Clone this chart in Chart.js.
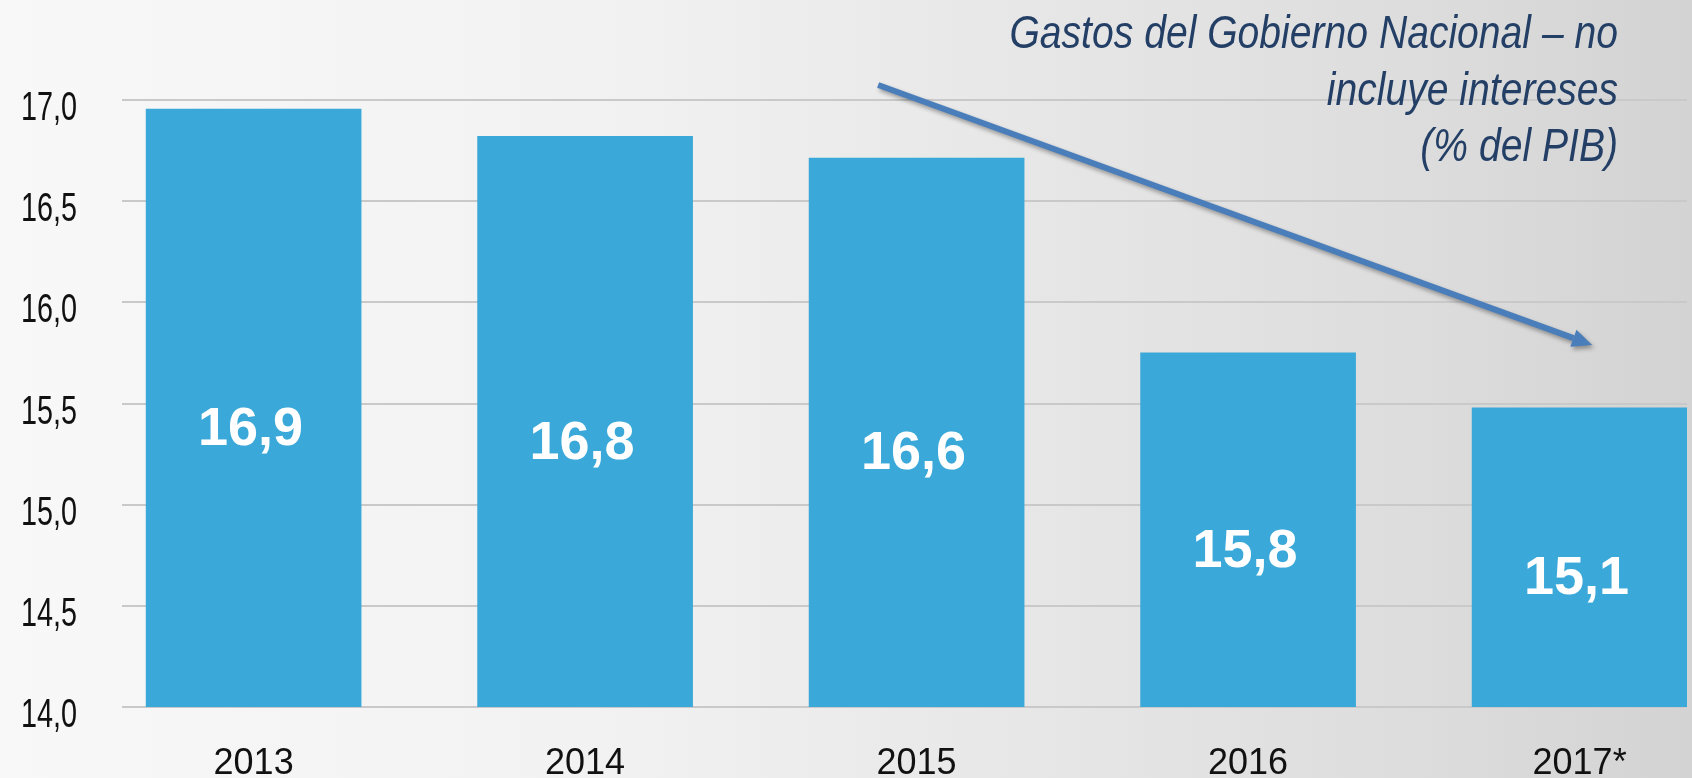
<!DOCTYPE html>
<html>
<head>
<meta charset="utf-8">
<script src="https://cdn.jsdelivr.net/npm/chart.js@4/dist/chart.umd.min.js"></script>
<style>
    html, body { margin: 0; padding: 0; background: #eeeeee; }
    #wrap { width: 1692px; height: 778px; }
</style>
</head>
<body>
<div id="wrap"><canvas id="gastosChart" width="1692" height="778"></canvas></div>
<script>
// Data
const years = ['2013', '2014', '2015', '2016', '2017*'];
const barHeights = [16.955, 16.82, 16.713, 15.751, 15.478];   // bar tops as drawn
const shownValues = [16.9, 16.8, 16.6, 15.8, 15.1];           // labels printed on bars
const yTicks = [14.0, 14.5, 15.0, 15.5, 16.0, 16.5, 17.0];
const titleLines = ['Gastos del Gobierno Nacional – no', 'incluye intereses', '(% del PIB)'];

const fmt = v => v.toFixed(1).replace('.', ',');

// Background: light grey gradient, lighter on the left
const backgroundPlugin = {
    id: 'bg',
    beforeDraw(chart) {
        const ctx = chart.ctx;
        const g = ctx.createLinearGradient(0, 0, chart.width, 0);
        g.addColorStop(0, '#f8f8f8');
        g.addColorStop(0.35, '#f2f2f2');
        g.addColorStop(0.65, '#e5e5e5');
        g.addColorStop(0.85, '#dcdcdc');
        g.addColorStop(1, '#d3d3d3');
        ctx.save();
        ctx.fillStyle = g;
        ctx.fillRect(0, 0, chart.width, chart.height);
        ctx.restore();
    }
};

// Condensed y tick labels and white values inside bars
const labelPlugin = {
    id: 'labels',
    afterDraw(chart) {
        const ctx = chart.ctx;
        const ys = chart.scales.y;

        ctx.save();
        ctx.fillStyle = '#111111';
        ctx.font = '40px "Liberation Sans", Arial, sans-serif';
        ctx.textAlign = 'right';
        ctx.textBaseline = 'middle';
        yTicks.forEach(v => {
            const py = ys.getPixelForValue(v) + 9;
            ctx.save();
            ctx.translate(77, py);
            ctx.scale(0.72, 1);
            ctx.fillText(fmt(v), 0, 0);
            ctx.restore();
        });
        ctx.restore();

        const meta = chart.getDatasetMeta(0);
        const basePx = ys.getPixelForValue(14);
        ctx.save();
        ctx.fillStyle = '#ffffff';
        ctx.font = 'bold 54px "Liberation Sans", Arial, sans-serif';
        ctx.textAlign = 'center';
        ctx.textBaseline = 'middle';
        meta.data.forEach((bar, i) => {
            const p = bar.getProps(['x', 'y'], true);
            const mid = (p.y + basePx) / 2 + 22;
            ctx.fillText(fmt(shownValues[i]), p.x - 3, mid);
        });
        ctx.restore();
    }
};

// Title and trend arrow
const annotationPlugin = {
    id: 'annotations',
    afterDraw(chart) {
        const ctx = chart.ctx;
        const xs = chart.scales.x, ys = chart.scales.y;

        // arrow
        const x1 = xs.getPixelForValue(1.884), y1 = ys.getPixelForValue(17.074);
        const x2 = xs.getPixelForValue(4.038), y2 = ys.getPixelForValue(15.789);
        const ang = Math.atan2(y2 - y1, x2 - x1);
        const head = 20, half = 9;
        ctx.save();
        ctx.shadowColor = 'rgba(0,0,0,0.35)';
        ctx.shadowBlur = 4;
        ctx.shadowOffsetX = 2;
        ctx.shadowOffsetY = 3;
        ctx.strokeStyle = '#4a7ebb';
        ctx.fillStyle = '#4a7ebb';
        ctx.lineWidth = 6;
        ctx.beginPath();
        ctx.moveTo(x1, y1);
        ctx.lineTo(x2 - head * Math.cos(ang), y2 - head * Math.sin(ang));
        ctx.stroke();
        ctx.beginPath();
        ctx.moveTo(x2, y2);
        ctx.lineTo(x2 - head * Math.cos(ang) + half * Math.sin(ang), y2 - head * Math.sin(ang) - half * Math.cos(ang));
        ctx.lineTo(x2 - head * Math.cos(ang) - half * Math.sin(ang), y2 - head * Math.sin(ang) + half * Math.cos(ang));
        ctx.closePath();
        ctx.fill();
        ctx.restore();

        // title, right aligned, slightly condensed
        ctx.save();
        ctx.fillStyle = '#243f66';
        ctx.font = 'italic 46px "Liberation Sans", Arial, sans-serif';
        ctx.textAlign = 'right';
        ctx.textBaseline = 'alphabetic';
        titleLines.forEach((line, i) => {
            ctx.save();
            ctx.translate(1618, 48 + i * 56.5);
            ctx.scale(0.85, 1);
            ctx.fillText(line, 0, 0);
            ctx.restore();
        });
        ctx.restore();
    }
};

const ctx = document.getElementById('gastosChart').getContext('2d');
new Chart(ctx, {
    type: 'bar',
    data: {
        datasets: [{
            data: barHeights.map((v, i) => ({ x: i, y: v })),
            backgroundColor: '#3aa8d8',
            borderWidth: 0,
            barThickness: 215
        }]
    },
    options: {
        responsive: false,
        animation: false,
        layout: { padding: { top: 100, right: 5, left: 0, bottom: 0 } },
        plugins: {
            legend: { display: false },
            tooltip: { enabled: false }
        },
        scales: {
            x: {
                type: 'linear',
                offset: false,
                min: -0.397,
                max: 4.324,
                grid: { display: false, drawTicks: false, offset: false },
                border: { display: false },
                afterBuildTicks: axis => { axis.ticks = years.map((y, i) => ({ value: i })); },
                afterFit: axis => { axis.height = 71; },
                ticks: {
                    color: '#111111',
                    padding: 35,
                    font: { family: '"Liberation Sans", Arial, sans-serif', size: 36 },
                    callback: v => years[v] ?? ''
                }
            },
            y: {
                min: 14,
                max: 17,
                grid: { color: '#c9c9c9', lineWidth: 2, drawTicks: false },
                border: { display: false },
                afterBuildTicks: axis => { axis.ticks = yTicks.map(v => ({ value: v })); },
                afterFit: axis => { axis.width = 122; },
                ticks: { display: false }
            }
        }
    },
    plugins: [backgroundPlugin, labelPlugin, annotationPlugin]
});
</script>
</body>
</html>
